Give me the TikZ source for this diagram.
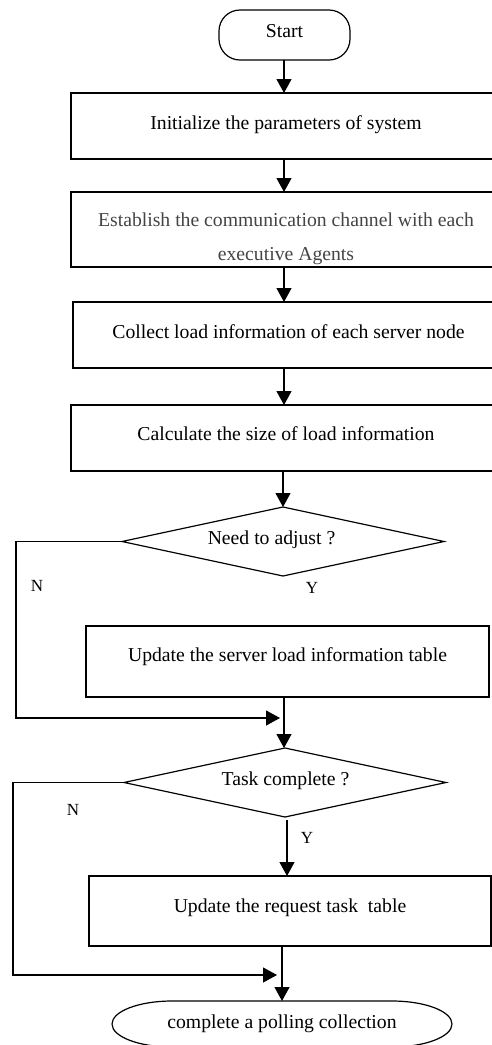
\documentclass[tikz,border=0pt]{standalone}
\usepackage{fontspec}
\setmainfont{Liberation Serif}
\usetikzlibrary{shapes.geometric,arrows.meta}
\definecolor{txtgray}{RGB}{68,68,68}
\begin{document}
\begin{tikzpicture}[x=1pt,y=-1pt,
  every node/.style={font=\fontsize{19.7}{24}\selectfont, inner sep=0pt, outer sep=0pt},
  box/.style={draw, line width=1.2pt, rectangle, text height=14pt},
  txt/.style={text height=14pt, text depth=4.5pt},
  dia/.style={draw, diamond, line width=1.2pt, minimum width=322pt, minimum height=69pt, aspect=4.67},
  flow/.style={line width=1.2pt, -{Triangle[length=14pt,width=15pt]}},
  yn/.style={font=\fontsize{17}{20}\selectfont}]
\useasboundingbox (0,0) rectangle (491,1045);

% start
\node[draw, line width=1.2pt, rounded corners=21pt, minimum width=131pt, minimum height=50pt,
      text height=14pt, text depth=10pt] (s) at (284.5,35) {Start};

% process boxes
\node[box, minimum width=430pt, minimum height=66pt, text depth=8pt] (b1) at (286,126)
  {Initialize the parameters of system};
\node[box, minimum width=430pt, minimum height=75pt] (b2) at (286,229.5) {};
\node[txt, align=center, text=txtgray, font=\fontsize{19.7}{34}\selectfont] (b2t) at (286,256)
  {Establish the communication channel with each\\executive Agents};
\node[box, minimum width=431pt, minimum height=66pt, text depth=8pt] (b3) at (288.5,335)
  {Collect load information of each server node};
\node[box, minimum width=430pt, minimum height=66pt, text depth=10pt] (b4) at (286,438)
  {Calculate the size of load information};

% decision 1
\node[dia] (d1) at (283,541.5) {};
\node[txt] (d1t) at (271.5,540) {Need to adjust ?};
\node[yn] (n1l) at (37,586) {N};
\node[yn] (y1l) at (312,588) {Y};

\node[box, minimum width=403pt, minimum height=71pt, text depth=15pt] (b5) at (287.5,661.5)
  {Update the server load information table};

% decision 2
\node[dia] (d2) at (285,782.5) {};
\node[txt] (d2t) at (285.5,781) {Task complete ?};
\node[yn] (n2l) at (73,810) {N};
\node[yn] (y2l) at (307,838) {Y};

\node[box, minimum width=402pt, minimum height=70pt, text depth=12pt] (b6) at (290,911)
  {Update the request task\ \ table};

% end terminal
\node[txt, minimum width=340pt, minimum height=46pt] (e) at (282,1024) {complete a polling collection};
\draw[line width=1.2pt] ([xshift=60pt]e.north west) -- ([xshift=-60pt]e.north east)
  arc[start angle=90, end angle=-90, x radius=60pt, y radius=23pt]
  -- ([xshift=60pt]e.south west)
  arc[start angle=270, end angle=90, x radius=60pt, y radius=23pt] -- cycle;

% coordinates
\coordinate (c0) at (284,60);
\coordinate (n1a) at (16,541.5);
\coordinate (n1b) at (16,718);
\coordinate (n1c) at (280,718);
\coordinate (n2a) at (13,782.5);
\coordinate (n2b) at (13,975);
\coordinate (n2c) at (277,975);
\coordinate (y2s) at (287,820);

% connectors
\draw[flow] (s.south -| c0) -- (b1.north -| c0);
\draw[flow] ([yshift=1pt]b1.south -| c0) -- (b2.north -| c0);
\draw[flow] ([yshift=1pt]b2.south -| c0) -- (b3.north -| c0);
\draw[flow] ([yshift=1pt]b3.south -| c0) -- (b4.north -| c0);
\draw[flow] ([yshift=-1pt]b4.south -| d1.north) -- (d1.north);
\draw[flow] (d1.west) -- (n1a) -- (n1b) -- (n1c);
\draw[flow] (b5.south -| c0) -- (d2.north -| c0);
\draw[flow] (d2.west) -- (n2a) -- (n2b) -- (n2c);
\draw[flow] (y2s) -- (y2s |- b6.north);
\draw[flow] (b6.south -| e.north) -- (e.north);
\end{tikzpicture}
\end{document}
